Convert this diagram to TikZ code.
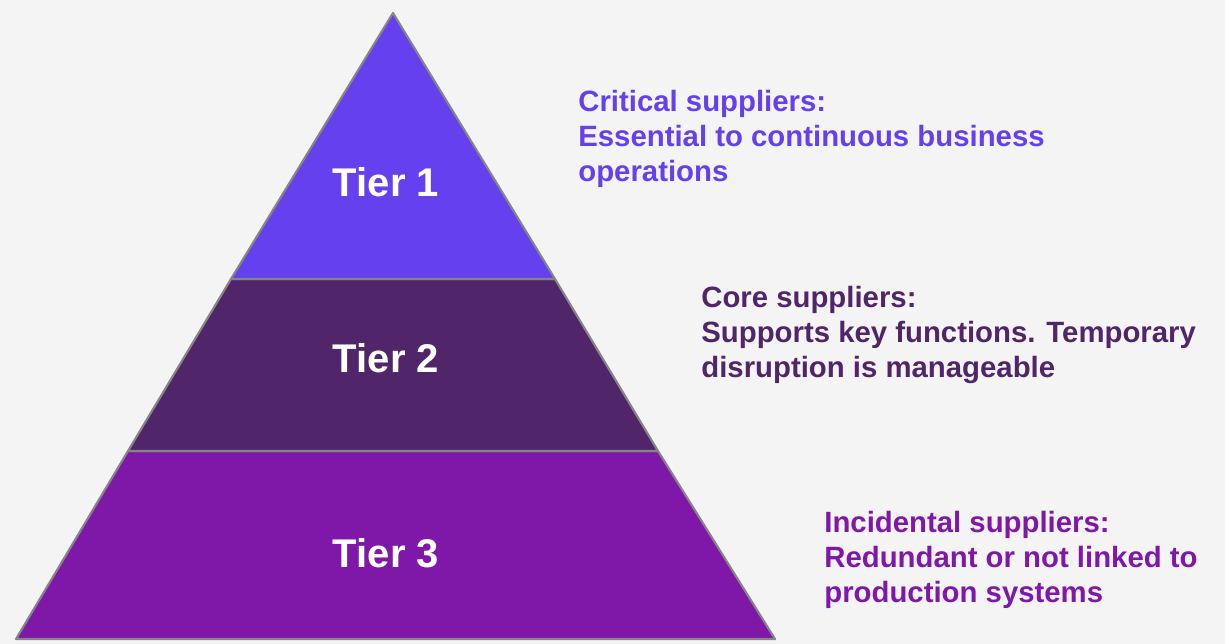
\documentclass[tikz,border=0pt]{standalone}
\usepackage{fontspec}
\setmainfont{Liberation Sans}
\usepackage{xcolor}
\usetikzlibrary{positioning,calc}

\definecolor{bgGray}{HTML}{F4F4F4}
\definecolor{edgeGray}{HTML}{858585}
\definecolor{tierOne}{HTML}{6440EE}
\definecolor{tierTwo}{HTML}{50256A}
\definecolor{tierThree}{HTML}{7F18A8}

\tikzset{
  tierband/.style={draw=edgeGray, line width=1.2pt, line join=round},
  tierlabel/.style={text=white, font=\fontsize{22.8}{26}\selectfont\bfseries, inner sep=0},
  tiernote/.style={anchor=north west, align=left, inner sep=0,
    font=\fontsize{16.7}{19.9}\selectfont\bfseries}
}

\begin{document}
\begin{tikzpicture}[x=0.02cm, y=-0.02cm]
  \fill[bgGray] (0,0) rectangle (1225,644);
  \useasboundingbox (0,0) rectangle (1225,644);

  % pyramid corners
  \coordinate (apex) at (393,13);
  \coordinate (aL) at (231,279);
  \coordinate (aR) at (555,279);
  \coordinate (bL) at (128,451);
  \coordinate (bR) at (658,451);
  \coordinate (cL) at (16,639);
  \coordinate (cR) at (775,639);

  \filldraw[tierband, fill=tierThree] (bL) -- (bR) -- (cR) -- (cL) -- cycle;
  \filldraw[tierband, fill=tierTwo] (aL) -- (aR) -- (bR) -- (bL) -- cycle;
  \filldraw[tierband, fill=tierOne] (apex) -- (aR) -- (aL) -- cycle;

  \node[tierlabel] (t1) at (386,182) {Tier 1};
  \node[tierlabel] (t2) at (386,358) {Tier 2};
  \node[tierlabel] (t3) at (386,553) {Tier 3};

  \node[tiernote, text=tierOne] (n1) at (578,90) {Critical suppliers:\\Essential to continuous business\\operations};
  \node[tiernote, text=tierTwo] (n2) at (701,286) {Core suppliers:\\Supports key functions. Temporary\\disruption is manageable};
  \node[tiernote, text=tierThree] (n3) at (824,511) {Incidental suppliers:\\Redundant or not linked to\\production systems};
\end{tikzpicture}
\end{document}
